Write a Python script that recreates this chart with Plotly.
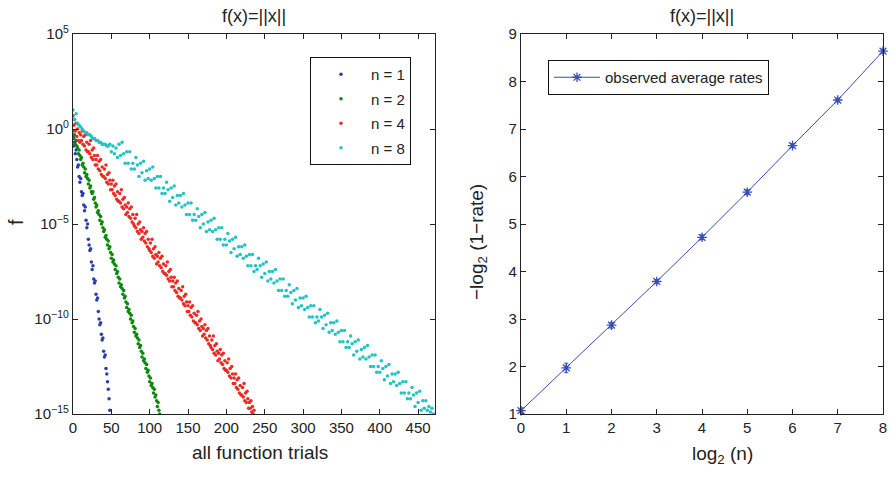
import numpy as np
import plotly.graph_objects as go

# ---------------- data (left panel: log10 f per trial) ----------------
trials_n1 = list(range(0, 49))
logf_n1 = [-0.4, -0.9, -0.7, -1.3, -1.1, -1.6, -2.0, -1.9, -2.5, -2.8,
           -2.6, -3.3, -3.5, -3.4, -4.0, -4.3, -4.1, -4.8, -5.2, -5.0,
           -5.8, -6.1, -6.4, -6.3, -7.0, -7.4, -7.2, -7.9, -8.1, -8.0,
           -8.7, -9.0, -8.9, -9.6, -10.0, -10.3, -10.2, -10.8, -11.1, -11.0,
           -11.7, -12.0, -11.9, -12.6, -12.9, -13.3, -13.7, -14.2, -14.8]

trials_n2 = list(range(0, 114))
logf_n2 = [-0.1, -0.5, -0.3, -0.8, -0.6, -0.9, -1.0, -1.3, -1.1, -1.4,
           -1.6, -1.5, -1.9, -1.8, -2.0, -2.3, -2.1, -2.5, -2.4, -2.6,
           -2.9, -2.7, -3.1, -3.0, -3.3, -3.4, -3.3, -3.7, -3.6, -3.9,
           -4.1, -4.0, -4.4, -4.3, -4.5, -4.8, -4.6, -5.0, -4.9, -5.2,
           -5.4, -5.3, -5.7, -5.6, -5.8, -6.1, -5.9, -6.3, -6.2, -6.5,
           -6.8, -6.6, -7.0, -6.9, -7.1, -7.4, -7.2, -7.6, -7.5, -7.8,
           -8.1, -7.9, -8.3, -8.2, -8.4, -8.7, -8.5, -8.9, -8.8, -9.1,
           -9.4, -9.2, -9.6, -9.5, -9.7, -10.0, -9.8, -10.2, -10.1, -10.4,
           -10.7, -10.5, -10.9, -10.8, -11.0, -11.3, -11.1, -11.5, -11.4, -11.7,
           -12.0, -11.8, -12.2, -12.1, -12.3, -12.6, -12.4, -12.8, -12.7, -13.0,
           -13.3, -13.1, -13.5, -13.4, -13.6, -13.9, -13.7, -14.1, -14.0, -14.3,
           -14.6, -14.4, -14.8, -15.0]

trials_n4 = list(range(0, 238))
logf_n4 = [0.7, 0.2, 0.5, -0.1, 0.3, -0.4, 0.0, -0.6, -0.2, -0.7,
           -0.3, -0.6, -0.1, -0.8, -0.4, -0.9, -0.3, -1.1, -0.7, -1.2,
           -1.2, -0.8, -1.3, -0.6, -1.5, -1.1, -1.6, -1.0, -1.4, -1.9,
           -1.6, -1.9, -1.4, -2.1, -1.7, -2.2, -1.6, -2.4, -2.0, -2.5,
           -2.5, -2.1, -2.6, -1.9, -2.8, -2.4, -2.9, -2.3, -2.7, -3.2,
           -2.9, -3.2, -2.7, -3.4, -3.0, -3.5, -2.9, -3.7, -3.3, -3.8,
           -3.8, -3.4, -3.9, -3.2, -4.1, -3.7, -4.2, -3.6, -4.0, -4.5,
           -4.1, -4.4, -3.9, -4.6, -4.2, -4.7, -4.1, -4.9, -4.5, -5.0,
           -5.1, -4.7, -5.2, -4.5, -5.4, -5.0, -5.5, -4.9, -5.3, -5.8,
           -5.4, -5.7, -5.2, -5.9, -5.5, -6.0, -5.4, -6.2, -5.8, -6.3,
           -6.4, -6.0, -6.5, -5.8, -6.7, -6.3, -6.8, -6.2, -6.6, -7.1,
           -6.7, -7.0, -6.5, -7.2, -6.8, -7.3, -6.7, -7.5, -7.1, -7.6,
           -7.6, -7.2, -7.7, -7.0, -7.9, -7.5, -8.0, -7.4, -7.8, -8.3,
           -8.0, -8.3, -7.8, -8.5, -8.1, -8.6, -8.0, -8.8, -8.4, -8.9,
           -8.9, -8.5, -9.0, -8.3, -9.2, -8.8, -9.3, -8.7, -9.1, -9.6,
           -9.3, -9.6, -9.1, -9.8, -9.4, -9.9, -9.3, -10.1, -9.7, -10.2,
           -10.2, -9.8, -10.3, -9.6, -10.5, -10.1, -10.6, -10.0, -10.4, -10.9,
           -10.5, -10.8, -10.3, -11.0, -10.6, -11.1, -10.5, -11.3, -10.9, -11.4,
           -11.5, -11.1, -11.6, -10.9, -11.8, -11.4, -11.9, -11.3, -11.7, -12.2,
           -11.8, -12.1, -11.6, -12.3, -11.9, -12.4, -11.8, -12.6, -12.2, -12.7,
           -12.7, -12.3, -12.8, -12.1, -13.0, -12.6, -13.1, -12.5, -12.9, -13.4,
           -13.1, -13.4, -12.9, -13.6, -13.2, -13.7, -13.1, -13.9, -13.5, -14.0,
           -14.0, -13.6, -14.1, -13.4, -14.3, -13.9, -14.4, -13.8, -14.2, -14.7,
           -14.4, -14.7, -14.3, -14.9, -14.6, -15.0, -14.8, -15.1]

trials_n8 = list(range(0, 471, 2))
logf_n8 = [1.0, 0.5, 0.8, 0.3, 0.2, 0.1, 0.0, -0.1, -0.2, -0.2,
           -0.3, -0.3, -0.4, -0.5, -0.5, -0.6, -0.6, -0.7, -0.7, -0.8,
           -0.8, -0.8, -0.9, -0.9, -0.8, -1.2, -0.9, -1.3, -1.0, -1.5,
           -0.8, -1.4, -0.7, -1.3, -1.8, -1.2, -1.8, -1.2, -2.1, -1.8,
           -2.1, -1.5, -1.9, -2.5, -1.8, -2.3, -1.7, -2.7, -2.2, -2.6,
           -2.1, -2.7, -2.0, -2.6, -3.1, -2.5, -3.1, -2.5, -3.4, -3.1,
           -3.4, -2.8, -3.2, -3.8, -3.1, -3.6, -3.0, -4.0, -3.5, -3.9,
           -3.5, -4.1, -3.4, -4.0, -4.5, -3.9, -4.5, -3.9, -4.8, -4.5,
           -4.8, -4.2, -4.6, -5.2, -4.5, -5.0, -4.4, -5.4, -4.9, -5.3,
           -4.8, -5.4, -4.7, -5.3, -5.8, -5.2, -5.8, -5.2, -6.1, -5.8,
           -6.1, -5.5, -5.9, -6.5, -5.8, -6.3, -5.7, -6.7, -6.2, -6.6,
           -6.2, -6.8, -6.1, -6.7, -7.2, -6.6, -7.2, -6.6, -7.5, -7.2,
           -7.4, -6.8, -7.2, -7.8, -7.1, -7.6, -7.0, -8.0, -7.5, -7.9,
           -7.5, -8.1, -7.4, -8.0, -8.5, -7.9, -8.5, -7.9, -8.8, -8.5,
           -8.8, -8.2, -8.6, -9.2, -8.5, -9.0, -8.4, -9.4, -8.9, -9.3,
           -8.9, -9.5, -8.8, -9.4, -9.9, -9.3, -9.9, -9.3, -10.2, -9.9,
           -10.1, -9.5, -9.9, -10.5, -9.8, -10.3, -9.7, -10.7, -10.2, -10.6,
           -10.2, -10.8, -10.1, -10.7, -11.2, -10.6, -11.2, -10.6, -11.5, -11.2,
           -11.5, -10.9, -11.3, -11.9, -11.2, -11.7, -11.1, -12.1, -11.6, -12.0,
           -11.5, -12.1, -11.4, -12.0, -12.5, -11.9, -12.5, -11.9, -12.8, -12.5,
           -12.8, -12.2, -12.6, -13.2, -12.5, -13.0, -12.4, -13.4, -12.9, -13.3,
           -12.9, -13.5, -12.8, -13.4, -13.9, -13.3, -13.9, -13.3, -14.2, -13.9,
           -14.2, -13.6, -14.0, -14.6, -13.9, -14.4, -13.8, -14.8, -14.3, -14.7,
           -14.3, -14.8, -14.6, -14.9, -14.7, -15.0]

# ---------------- data (right panel) ----------------
log2_n = [0, 1, 2, 3, 4, 5, 6, 7, 8]
neg_log2_rate = [1.07, 1.97, 2.87, 3.79, 4.72, 5.67, 6.65, 7.61, 8.64]
rate_err = [0.06, 0.10, 0.06, 0.04, 0.05, 0.05, 0.04, 0.04, 0.04]

left_ticks = [-15, -10, -5, 0, 5]
left_ticktext = ["10<sup>−15</sup>", "10<sup>−10</sup>", "10<sup>−5</sup>", "10<sup>0</sup>", "10<sup>5</sup>"]

series = [
    ("n = 1", trials_n1, logf_n1, "#2b3fae"),
    ("n = 2", trials_n2, logf_n2, "#0c880c"),
    ("n = 4", trials_n4, logf_n4, "#ec2b25"),
    ("n = 8", trials_n8, logf_n8, "#22c3c3"),
]

FONT = "Liberation Sans, Arial, Helvetica, sans-serif"
INK = "#222222"
fig = go.Figure()

for name, xs, ys, col in series:
    fig.add_trace(go.Scatter(
        x=xs, y=[10.0 ** v for v in ys], mode="markers", name=name,
        marker=dict(color=col, size=3.5, line=dict(width=0)),
        xaxis="x", yaxis="y", legend="legend", legendgroup=name,
    ))

fig.add_trace(go.Scatter(
    x=log2_n, y=neg_log2_rate, mode="lines+markers", name="observed average rates",
    line=dict(color="#3a4cb5", width=1),
    marker=dict(symbol="asterisk-open", size=8, color="#3a4cb5", line=dict(width=1.3, color="#3a4cb5")),
    error_y=dict(type="data", array=rate_err, color="#3a4cb5", thickness=1, width=2),
    xaxis="x2", yaxis="y2", legend="legend2", cliponaxis=False,
))

axis_common = dict(
    showline=True, linecolor=INK, linewidth=1.3, mirror="ticks",
    ticks="inside", ticklen=5, tickwidth=1, tickcolor=INK,
    showgrid=False, zeroline=False, automargin=False,
    tickfont=dict(family=FONT, size=15, color=INK),
)

# plot-area pixel geometry
W, H = 890, 477
L, R, T, B = 73, 7, 34, 63
PW = W - L - R
x1d = [0, (435 - L) / PW]
x2d = [(521 - L) / PW, 1]

def px(xp):
    return (xp - L) / PW

def py(yp):
    return 1 - (yp - T) / (H - T - B)

fig.update_layout(
    width=W, height=H,
    margin=dict(l=L, r=R, t=T, b=B),
    paper_bgcolor="white", plot_bgcolor="white",
    font=dict(family=FONT, color=INK),
    xaxis=dict(axis_common, domain=x1d, anchor="y", range=[0, 472],
               tickvals=[0, 50, 100, 150, 200, 250, 300, 350, 400, 450]),
    yaxis=dict(axis_common, domain=[0, 1], anchor="x", type="log", range=[-15, 5],
               tickvals=[10.0 ** t for t in left_ticks], ticktext=left_ticktext),
    xaxis2=dict(axis_common, domain=x2d, anchor="y2", range=[0, 8], dtick=1),
    yaxis2=dict(axis_common, domain=[0, 1], anchor="x2", range=[1, 9], dtick=1),
    legend=dict(x=px(310), y=py(57), xanchor="left", yanchor="top",
                bordercolor="#111111", borderwidth=1, bgcolor="white",
                font=dict(family=FONT, size=15), traceorder="grouped",
                tracegroupgap=2, itemwidth=50),
    legend2=dict(x=px(548), y=py(60), xanchor="left", yanchor="top",
                 bordercolor="#111111", borderwidth=1, bgcolor="white",
                 font=dict(family=FONT, size=15), itemwidth=46),
    showlegend=True,
)

ann = [
    dict(text="f(x)=||x||", x=px(254), y=py(16), size=18, angle=0),
    dict(text="f(x)=||x||", x=px(702), y=py(16), size=18, angle=0),
    dict(text="all function trials", x=px(260), y=py(452), size=19, angle=0),
    dict(text="log<sub>2</sub> (n)", x=px(722), y=py(455), size=19, angle=0),
    dict(text="f", x=px(16), y=py(222), size=20, angle=-90),
    dict(text="−log<sub>2</sub> (1−rate)", x=px(478), y=py(242), size=19, angle=-90),
]
fig.update_layout(annotations=[
    dict(text=a["text"], x=a["x"], y=a["y"], xref="paper", yref="paper", showarrow=False,
         textangle=a["angle"], font=dict(family=FONT, size=a["size"], color=INK),
         xanchor="center", yanchor="middle")
    for a in ann
])

fig.write_html("out.html", config={"displayModeBar": False},
               post_script="document.body.style.margin='0';document.body.style.overflow='hidden';")
